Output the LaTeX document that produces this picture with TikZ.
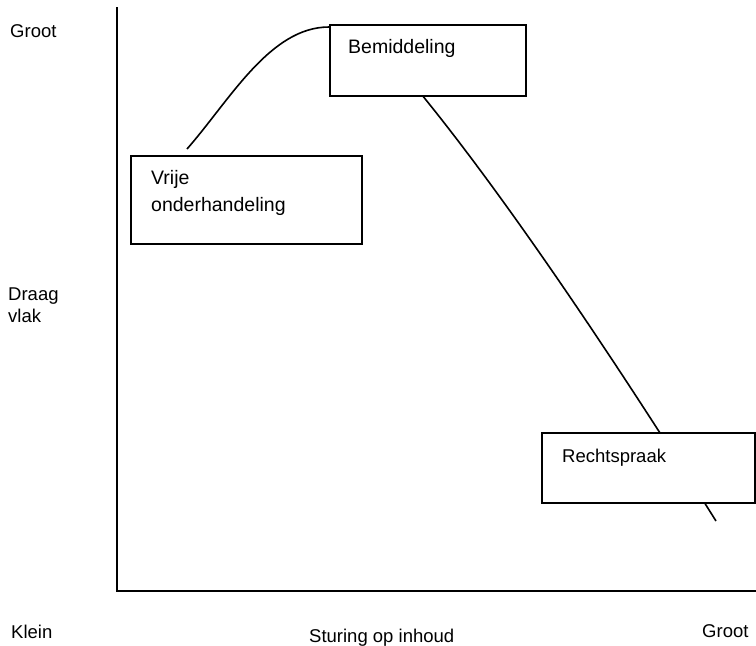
\documentclass[tikz,border=0pt]{standalone}
\usepackage{fontspec}
\setmainfont{Liberation Sans}
\usetikzlibrary{calc}
\tikzset{
  box/.style={draw, line width=1.8pt, fill=white, inner sep=0pt, anchor=north west},
  lbl/.style={anchor=base west, inner sep=0pt, font=\fontsize{18.5}{22}\selectfont},
  mlbl/.style={anchor=north west, inner sep=0pt, align=left},
  link/.style={line width=1.6pt},
  axis/.style={line width=1.8pt}
}
\begin{document}
\begin{tikzpicture}[x=1pt, y=-1pt]
\useasboundingbox (0,0) rectangle (756,646);
% axes
\coordinate (ytop) at (117,7);
\coordinate (orig) at (117,591);
\coordinate (xend) at (756,591);
\draw[axis] (ytop) -- (orig) -- (xend);
% curve from Vrije onderhandeling to Bemiddeling
\coordinate (cs) at (187,149);
\coordinate (ce) at (329,27);
\draw[link] (cs) .. controls (230,100) and (270,27) .. (ce);
% line from Bemiddeling through Rechtspraak
\coordinate (ls) at (422,95);
\coordinate (le) at (716,521);
\draw[link] (ls) .. controls (522,218) and (640,400) .. (le);
% boxes
\node[box, minimum width=196pt, minimum height=71pt] (bem) at (329,24) {};
\node[box, minimum width=231pt, minimum height=88pt] (vrije) at (130,155) {};
\node[box, minimum width=213pt, minimum height=70pt] (recht) at (541,432) {};
% box texts
\node[lbl, font=\fontsize{19.5}{22}\selectfont] (bemt) at (348,53) {Bemiddeling};
\node[mlbl, font=\fontsize{19.5}{27}\selectfont] (vrijet) at (151,170) {Vrije\\onderhandeling};
\node[lbl] (rechtt) at (562,462) {Rechtspraak};
% axis labels
\node[lbl] (grootl) at (10,37) {Groot};
\node[mlbl, font=\fontsize{18.5}{21.5}\selectfont] (draag) at (8,288) {Draag\\vlak};
\node[lbl] (klein) at (11,638) {Klein};
\node[lbl] (sturing) at (309,642) {Sturing op inhoud};
\node[lbl] (grootr) at (702,637) {Groot};
\end{tikzpicture}
\end{document}
